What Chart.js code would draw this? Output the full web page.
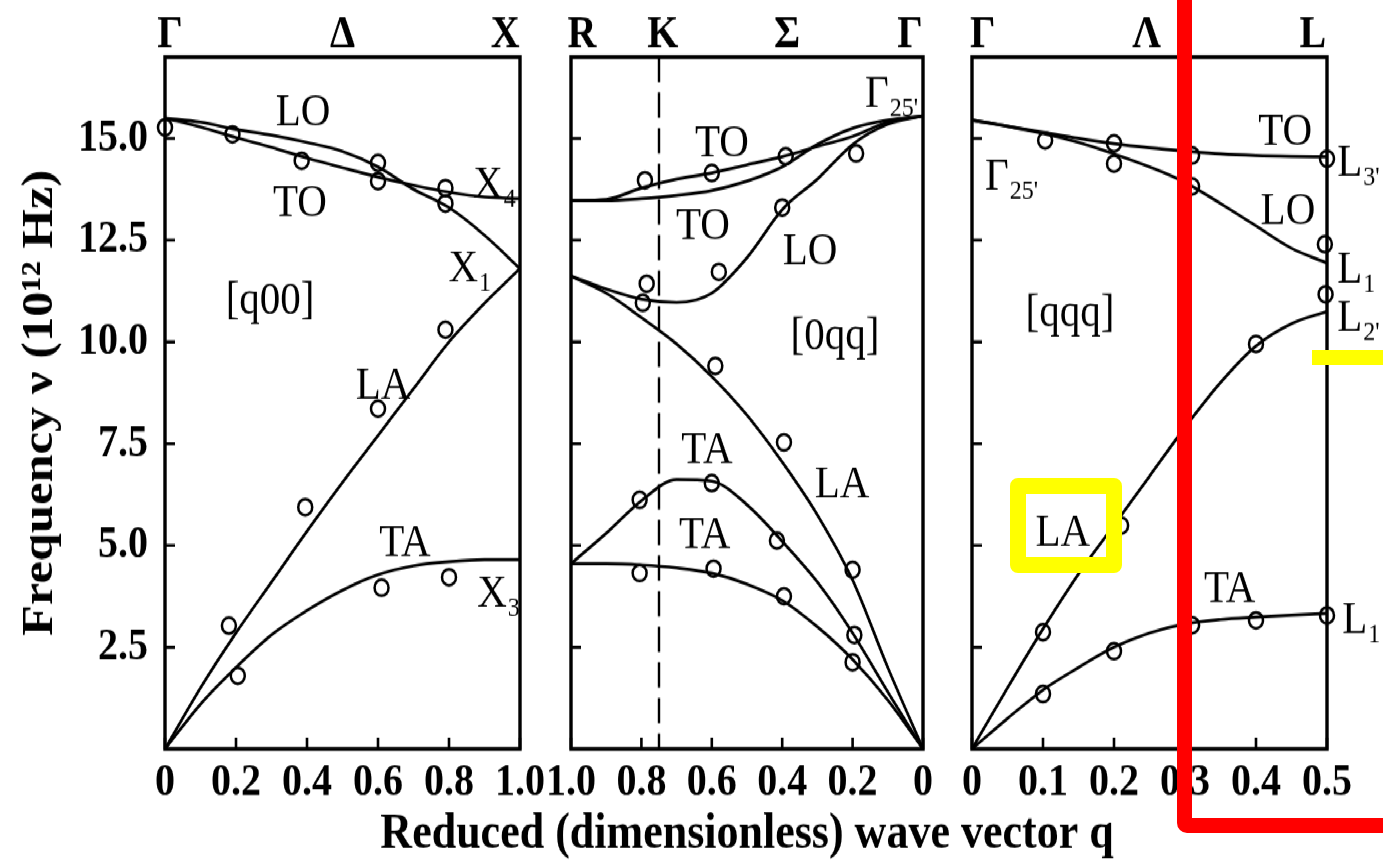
<!DOCTYPE html>
<html>
<head>
<meta charset="utf-8">
<script src="https://cdn.jsdelivr.net/npm/chart.js@4.4.1/dist/chart.umd.min.js"></script>
<style>
  html, body { margin: 0; padding: 0; background: #fff; width: 1383px; height: 864px; overflow: hidden; }
  #stage { position: absolute; left: 0; top: 0; width: 1383px; height: 752px; transform: scale(1, 1.1489); transform-origin: 0 0; }
  #stage canvas { position: absolute; left: 0; top: 0; }
  .mark { position: absolute; box-sizing: border-box; }
</style>
</head>
<body>
<div id="stage">
  <canvas id="p1" width="1383" height="752"></canvas>
  <canvas id="p2" width="1383" height="752"></canvas>
  <canvas id="p3" width="1383" height="752"></canvas>
</div>
<div class="mark" style="left:1177px; top:-40px; width:260px; height:873px; border:15px solid #f00; border-radius:10px;"></div>
<div class="mark" style="left:1010px; top:478px; width:112px; height:95px; border:16px solid #ff0; border-radius:8px;"></div>
<div class="mark" style="left:1312px; top:350px; width:80px; height:15px; background:#ff0;"></div>

<script>
const yTicks = [2.5, 5.0, 7.5, 10.0, 12.5, 15.0];
const yMax = 17.0;
const xTitle = 'Reduced (dimensionless) wave vector q';

// [q00]  Gamma -> X
const q1 = [0, 0.1, 0.2, 0.3, 0.4, 0.5, 0.6, 0.7, 0.8, 0.9, 1.0];
const lo1 = [15.5, 15.4, 15.22, 15.08, 14.9, 14.68, 14.3, 13.75, 13.3, 12.62, 11.8];
const to1 = [15.5, 15.28, 15.02, 14.78, 14.52, 14.28, 14.05, 13.85, 13.68, 13.56, 13.52];
const la1 = [0, 1.5, 2.85, 4.1, 5.35, 6.55, 7.7, 8.85, 10.0, 10.95, 11.8];
const ta1 = [0, 1.1, 2.0, 2.8, 3.4, 3.9, 4.28, 4.5, 4.6, 4.65, 4.65];
const dotQ1 = [0, 0.19, 0.385, 0.6, 0.6, 0.79, 0.79, 0.18, 0.395, 0.6, 0.79, 0.205, 0.61, 0.8];
const dotV1 = [15.27, 15.1, 14.45, 14.4, 13.95, 13.78, 13.4, 3.03, 5.94, 8.36, 10.3, 1.8, 3.96, 4.22];
const xTicks1 = [0, 0.2, 0.4, 0.6, 0.8, 1.0];

// [0qq]  R <- K <- Sigma <- Gamma
const q2 = [0, 0.1, 0.2, 0.3, 0.4, 0.5, 0.6, 0.7, 0.8, 0.9, 1.0];
const toUp2 = [15.55, 15.4, 15.05, 14.8, 14.55, 14.35, 14.15, 14.0, 13.78, 13.5, 13.47];
const toLow2 = [15.55, 15.45, 15.25, 14.85, 14.3, 13.95, 13.72, 13.6, 13.52, 13.47, 13.47];
const lo2 = [15.55, 15.35, 14.85, 14.0, 13.25, 12.07, 11.2, 10.97, 11.05, 11.3, 11.62];
const la2 = [0, 2.0, 4.15, 5.75, 7.05, 8.2, 9.15, 9.95, 10.6, 11.2, 11.62];
const taUp2 = [0, 1.4, 2.85, 4.1, 5.1, 6.0, 6.58, 6.62, 6.1, 5.3, 4.55];
const taLow2 = [0, 1.2, 2.2, 3.0, 3.65, 4.05, 4.32, 4.45, 4.52, 4.55, 4.55];
const dotQ2 = [0.79, 0.6, 0.39, 0.19, 0.785, 0.796, 0.58, 0.4, 0.59, 0.395, 0.2, 0.805, 0.6, 0.415, 0.195, 0.805, 0.595, 0.395, 0.2];
const dotV2 = [13.97, 14.15, 14.56, 14.63, 11.43, 10.96, 11.72, 13.3, 9.41, 7.53, 4.4, 6.12, 6.53, 5.12, 2.8, 4.32, 4.43, 3.75, 2.13];
const xTicks2 = [1.0, 0.8, 0.6, 0.4, 0.2, 0];
const kPoint = 0.75;

// [qqq]  Gamma -> L
const q3 = [0, 0.05, 0.1, 0.15, 0.2, 0.25, 0.3, 0.35, 0.4, 0.45, 0.5];
const to3 = [15.45, 15.3, 15.15, 15.0, 14.87, 14.77, 14.69, 14.62, 14.58, 14.56, 14.55];
const lo3 = [15.45, 15.3, 15.12, 14.9, 14.62, 14.3, 13.92, 13.4, 12.85, 12.3, 11.94];
const la3 = [0, 1.5, 2.95, 4.3, 5.5, 6.7, 7.9, 9.0, 9.9, 10.45, 10.75];
const ta3 = [0, 0.75, 1.45, 2.0, 2.5, 2.85, 3.07, 3.18, 3.24, 3.29, 3.33];
const dotQ3 = [0.103, 0.2, 0.2, 0.31, 0.31, 0.5, 0.497, 0.498, 0.4, 0.21, 0.1, 0.1, 0.2, 0.31, 0.4, 0.5];
const dotV3 = [14.95, 14.88, 14.38, 14.58, 13.82, 14.5, 12.4, 11.17, 9.95, 5.49, 2.87, 1.35, 2.4, 3.04, 3.16, 3.28];
const xTicks3 = [0, 0.1, 0.2, 0.3, 0.4, 0.5];

// text in the panels (q, v in data units; top = above the frame)
const labels1 = [
  {t: 'Γ', q: 0.014, top: true}, {t: 'Δ', q: 0.5, top: true}, {t: 'X', q: 0.958, top: true},
  {t: 'LO', q: 0.389, v: 15.68}, {t: 'TO', q: 0.38, v: 13.46},
  {t: 'X', s: '4', q: 0.91, v: 13.9}, {t: 'X', s: '1', q: 0.84, v: 11.86},
  {t: '[q00]', q: 0.296, v: 11.05}, {t: 'LA', q: 0.614, v: 8.97},
  {t: 'TA', q: 0.676, v: 5.12}, {t: 'X', s: '3', q: 0.921, v: 3.85}
];
const labels2 = [
  {t: 'R', q: 0.969, top: true}, {t: 'K', q: 0.739, top: true}, {t: 'Σ', q: 0.386, top: true}, {t: 'Γ', q: 0.037, top: true},
  {t: 'Γ', s: "25'", q: 0.131, v: 16.15}, {t: 'TO', q: 0.571, v: 14.93}, {t: 'TO', q: 0.625, v: 12.9},
  {t: 'LO', q: 0.321, v: 12.28}, {t: '[0qq]', q: 0.25, v: 10.2}, {t: 'TA', q: 0.614, v: 7.4},
  {t: 'LA', q: 0.23, v: 6.55}, {t: 'TA', q: 0.62, v: 5.29}
];
const labels3 = [
  {t: 'Γ', q: 0.015, top: true}, {t: 'Λ', q: 0.246, top: true}, {t: 'L', q: 0.48, top: true},
  {t: 'Γ', s: "25'", q: 0.035, v: 14.12}, {t: 'TO', q: 0.441, v: 15.22}, {t: 'LO', q: 0.445, v: 13.26},
  {t: '[qqq]', q: 0.138, v: 10.76}, {t: 'L', s: "3'", q: 0.532, v: 14.44}, {t: 'L', s: '1', q: 0.532, v: 11.81},
  {t: 'L', s: "2'", q: 0.532, v: 10.64}, {t: 'LA', q: 0.128, v: 5.37}, {t: 'TA', q: 0.363, v: 3.97},
  {t: 'L', s: '1', q: 0.539, v: 3.21}
];

const serif = "'Liberation Serif', 'Times New Roman', serif";
Chart.defaults.font.family = serif;
Chart.defaults.color = '#000';

const panelPlugin = {
  id: 'panel',
  afterDraw(chart, args, opts) {
    const {ctx, chartArea: a, scales: {x, y}} = chart;
    ctx.save();
    ctx.strokeStyle = '#000';
    ctx.lineWidth = 3.4;
    ctx.strokeRect(a.left, a.top, a.right - a.left, a.bottom - a.top);

    // inward tick marks
    ctx.lineWidth = 2.6;
    ctx.beginPath();
    yTicks.forEach(v => {
      const py = y.getPixelForValue(v);
      ctx.moveTo(a.left, py);
      ctx.lineTo(a.left + 10, py);
    });
    opts.xTicks.forEach(v => {
      const px = x.getPixelForValue(v);
      ctx.moveTo(px, a.bottom);
      ctx.lineTo(px, a.bottom - 10);
    });
    ctx.stroke();

    if (opts.dashAt != null) {
      const px = x.getPixelForValue(opts.dashAt);
      ctx.setLineDash([22, 9]);
      ctx.lineWidth = 2.4;
      ctx.beginPath();
      ctx.moveTo(px, a.top);
      ctx.lineTo(px, a.bottom);
      ctx.stroke();
      ctx.setLineDash([]);
    }

    ctx.fillStyle = '#000';
    ctx.textBaseline = 'alphabetic';
    opts.labels.forEach(l => {
      const px = x.getPixelForValue(l.q);
      const base = l.top ? a.top - 9 : y.getPixelForValue(l.v) + 13;
      ctx.font = (l.top ? 'bold 40px ' : '41px ') + serif;
      const w = ctx.measureText(l.t).width;
      ctx.textAlign = 'center';
      ctx.fillText(l.t, px, base);
      if (l.s) {
        ctx.font = '24px ' + serif;
        ctx.textAlign = 'left';
        ctx.fillText(l.s, px + w / 2 + 1, base + 8);
      }
    });

    // shared x title, centred under the middle panel
    if (opts.title) {
      ctx.font = 'bold 44px ' + serif;
      ctx.textAlign = 'center';
      ctx.fillText(opts.title, (a.left + a.right) / 2, chart.height - 14);
    }
    ctx.restore();
  }
};

function curve(qs, vs) {
  return {
    data: qs.map((q, i) => ({x: q, y: vs[i]})),
    showLine: true,
    borderColor: '#000',
    borderWidth: 2.7,
    pointRadius: 0,
    cubicInterpolationMode: 'monotone'
  };
}

function dots(qs, vs) {
  return {
    data: qs.map((q, i) => ({x: q, y: vs[i]})),
    showLine: false,
    pointRadius: 7,
    pointBorderWidth: 2.5,
    pointBorderColor: '#000',
    pointBackgroundColor: 'rgba(0,0,0,0)',
    clip: false
  };
}

function makePanel(id, p) {
  new Chart(document.getElementById(id), {
    type: 'scatter',
    data: {datasets: [dots(p.dotQ, p.dotV)].concat(p.curves.map(c => curve(c[0], c[1])))},
    options: {
      responsive: false,
      animation: false,
      devicePixelRatio: 1,
      layout: {padding: {left: p.left, right: p.right, top: 49.6, bottom: 0}},
      plugins: {
        legend: {display: false},
        tooltip: {enabled: false},
        panel: {xTicks: p.xTicks, labels: p.labels, dashAt: p.dashAt, title: p.xTitle}
      },
      scales: {
        x: {
          type: 'linear',
          min: 0,
          max: p.xMax,
          reverse: !!p.reverse,
          afterBuildTicks: s => { s.ticks = p.xTicks.map(v => ({value: v})); },
          afterFit: s => { s.height = 100.1; },
          grid: {display: false, drawTicks: false},
          border: {display: false},
          ticks: {
            autoSkip: false, maxRotation: 0, padding: 6,
            font: {size: 40, weight: 'bold'},
            callback: v => v === 0 ? '0' : v.toFixed(1)
          }
        },
        y: {
          display: !!p.showY,
          min: 0,
          max: yMax,
          afterBuildTicks: s => { s.ticks = yTicks.map(v => ({value: v})); },
          afterFit: s => { s.width = p.showY ? 165 : 0; },
          grid: {display: false, drawTicks: false},
          border: {display: false},
          ticks: {padding: 17, font: {size: 40, weight: 'bold'}, callback: v => v.toFixed(1)},
          title: {
            display: true,
            text: 'Frequency ν (10¹² Hz)',
            font: {size: 44, weight: 'bold'},
            padding: {top: 14, bottom: 0}
          }
        }
      }
    },
    plugins: [panelPlugin]
  });
}

makePanel('p1', {
  left: 0, right: 863, xMax: 1.0, showY: true, xTicks: xTicks1, labels: labels1,
  curves: [[q1, lo1], [q1, to1], [q1, la1], [q1, ta1]], dotQ: dotQ1, dotV: dotV1
});
makePanel('p2', {
  left: 571, right: 460, xMax: 1.0, reverse: true, xTicks: xTicks2, labels: labels2, dashAt: kPoint,
  xTitle: xTitle,
  curves: [[q2, toUp2], [q2, toLow2], [q2, lo2], [q2, la2], [q2, taUp2], [q2, taLow2]], dotQ: dotQ2, dotV: dotV2
});
makePanel('p3', {
  left: 972, right: 56, xMax: 0.5, xTicks: xTicks3, labels: labels3,
  curves: [[q3, to3], [q3, lo3], [q3, la3], [q3, ta3]], dotQ: dotQ3, dotV: dotV3
});
</script>
</body>
</html>
